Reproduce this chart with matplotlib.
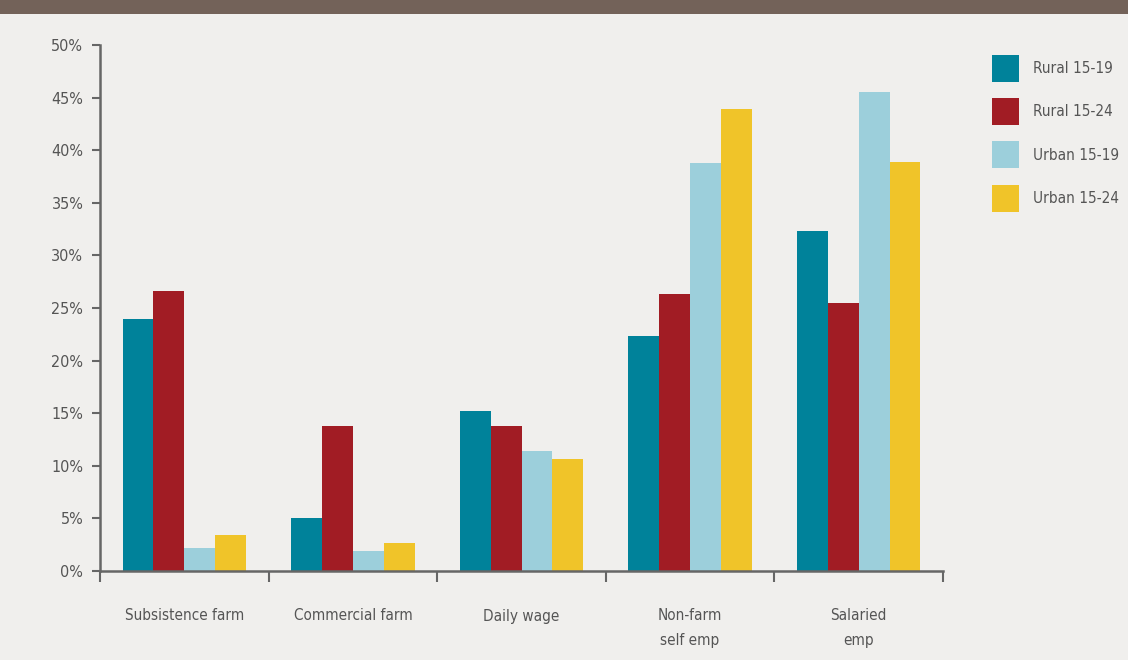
import matplotlib
matplotlib.use("Agg")
import matplotlib.pyplot as plt
from matplotlib.patches import Rectangle
import numpy as np

categories = ["Subsistence farm", "Commercial farm", "Daily wage", "Non-farm\nself emp", "Salaried\nemp"]
series_names = ["Rural 15-19", "Rural 15-24", "Urban 15-19", "Urban 15-24"]
rural_15_19 = [24.0, 5.0, 15.2, 22.3, 32.3]
rural_15_24 = [26.6, 13.8, 13.8, 26.3, 25.5]
urban_15_19 = [2.2, 1.9, 11.4, 38.8, 45.5]
urban_15_24 = [3.4, 2.7, 10.6, 43.9, 38.9]
y_ticks = [0, 5, 10, 15, 20, 25, 30, 35, 40, 45, 50]

colors = ["#00829a", "#a11c24", "#9ccfdb", "#f0c429"]
bg = "#f0efed"
txt = "#555555"
axc = "#666666"
plt.rcParams['font.family'] = ['DejaVu Sans']
plt.rcParams['font.stretch'] = 'condensed'

W, H = 1128, 660
fig = plt.figure(figsize=(W/100, H/100), dpi=100, facecolor=bg)
ax = fig.add_axes([100/W, (H-571)/H, (943-100)/W, (571-45)/H])
ax.set_facecolor(bg)

fig.patches.append(Rectangle((0, 1-14/H), 1, 14/H, transform=fig.transFigure,
                             facecolor="#736259", edgecolor="none", zorder=0))

x = np.arange(len(categories))
bw = 0.183
data = [rural_15_19, rural_15_24, urban_15_19, urban_15_24]
for i, (vals, name, c) in enumerate(zip(data, series_names, colors)):
    ax.bar(x + (i - 1.5) * bw, vals, width=bw, color=c, label=name, zorder=2)

ax.set_xlim(-0.5, len(categories) - 0.5)
ax.set_ylim(0, 50)
ax.set_yticks(y_ticks)
ax.set_yticklabels([f"{t}%" for t in y_ticks])
ax.set_xticks(x)
ax.set_xticklabels(categories, linespacing=1.75)
ax.set_xticks(np.arange(-0.5, len(categories)), minor=True)
ax.tick_params(axis='x', which='major', length=0, pad=27, labelsize=11, labelcolor=txt)
ax.tick_params(axis='x', which='minor', length=8, width=1.5, color=axc, direction='out')
ax.tick_params(axis='y', length=6, width=1.5, color=axc, labelsize=11.5, labelcolor=txt, pad=6)

for s in ['top', 'right']:
    ax.spines[s].set_visible(False)
for s in ['left', 'bottom']:
    ax.spines[s].set_color(axc)
    ax.spines[s].set_linewidth(1.8)

leg = fig.legend(loc='upper left', bbox_to_anchor=(978/W, 1 - 41/H), frameon=False,
                 handlelength=1.77, handleheight=2.34, handletextpad=0.92, labelspacing=1.07,
                 fontsize=11, labelcolor=txt)

fig.savefig("out.png", dpi=100, facecolor=bg)
